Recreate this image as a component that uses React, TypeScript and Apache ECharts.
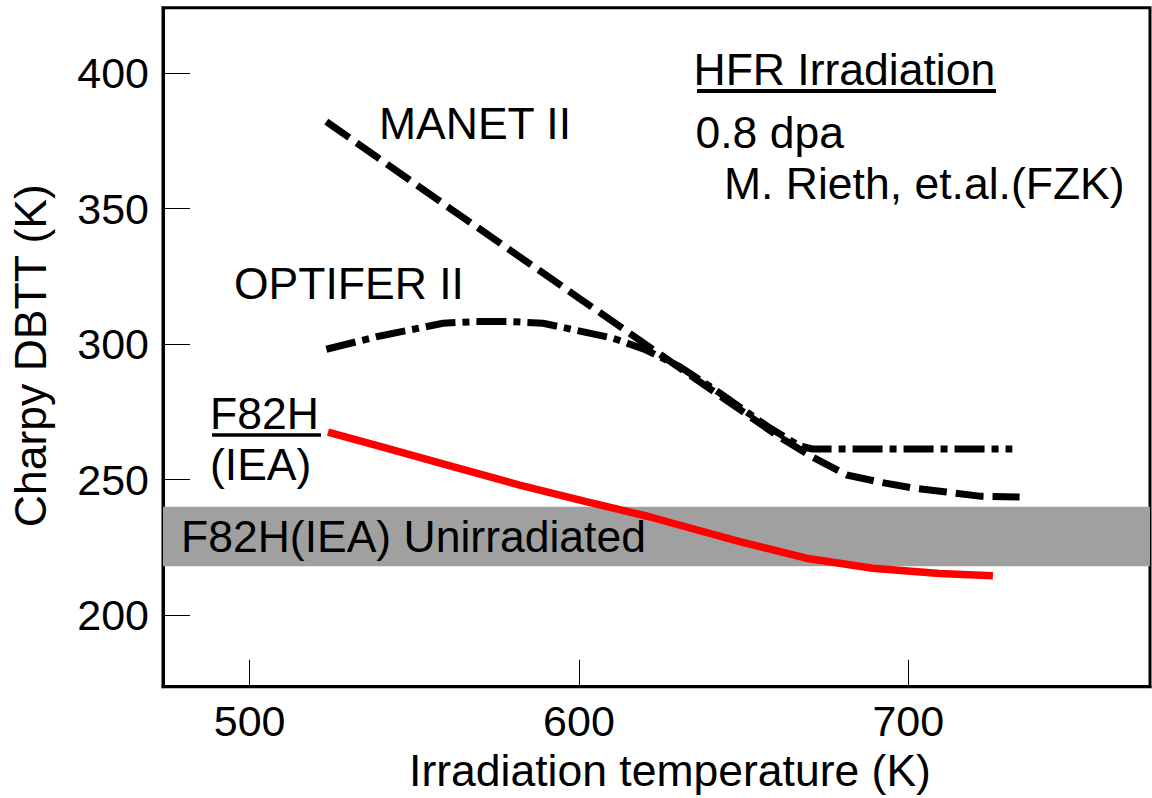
import React, { useEffect, useRef } from "react";
import * as echarts from "echarts";

const FONT = "'Liberation Sans', Arial, Helvetica, sans-serif";
const TXT = 44.5;

const xTicks = [500, 600, 700];
const yTicks = [200, 250, 300, 350, 400];

// [irradiation temperature (K), Charpy DBTT (K)]
const manetII: [number, number][] = [
  [523.3, 382.1], [560.7, 350.2], [600.2, 316.8], [634.5, 287.9], [660.9, 265.7],
  [670.9, 258.3], [681.3, 251.7], [691.3, 249.1], [701.3, 246.9], [711.6, 245.4],
  [721.6, 243.9], [733.8, 243.6],
];
const optiferII: [number, number][] = [
  [523.3, 298.1], [538.5, 302.7], [548.6, 305.2], [558.7, 307.7], [568.8, 308.3],
  [578.9, 308.3], [589.1, 307.7], [594.1, 306.4], [610.3, 302.2], [620.4, 297.8],
  [630.6, 291.7], [642.7, 282.0], [657.9, 269.1], [667.0, 262.4], [670.9, 261.3],
  [731.6, 261.3],
];
const f82hIEA: [number, number][] = [
  [523.8, 267.5], [541.5, 261.6], [561.7, 254.8], [582.0, 248.0], [602.2, 241.9],
  [621.4, 236.3], [628.5, 233.9], [648.8, 227.1], [669.0, 221.0], [689.2, 217.3],
  [709.5, 215.4], [725.7, 214.5],
];
const unirradiatedBand = [218, 240];

export default function App() {
  const ref = useRef<HTMLDivElement>(null);
  useEffect(() => {
    if (!ref.current) return;
    const chart = echarts.init(ref.current, null, { renderer: "svg" });
    const txt = (text: string, x: number, y: number) => ({
      type: "text",
      x,
      y,
      silent: true,
      z: 10,
      style: { text, fontSize: TXT, fontFamily: FONT, fill: "#000", align: "left", verticalAlign: "middle" },
    });
    chart.setOption({
      animation: false,
      backgroundColor: "#fff",
      textStyle: { fontFamily: FONT },
      grid: {
        left: 162.7, top: 7.7, right: 2, bottom: 111.3,
        show: true, borderColor: "#000", borderWidth: 3, backgroundColor: "transparent",
      },
      xAxis: {
        type: "value",
        min: 473.7,
        max: 773.4,
        name: "Irradiation temperature (K)",
        nameLocation: "middle",
        nameGap: 61,
        nameTextStyle: { fontSize: TXT, color: "#000", fontFamily: FONT, padding: [0, 0, 0, 27] },
        axisLine: { show: true, lineStyle: { color: "#000", width: 3 } },
        axisTick: { show: true, inside: true, length: 27, customValues: xTicks, lineStyle: { color: "#000", width: 1 } },
        axisLabel: { customValues: xTicks, fontSize: 43, color: "#000", margin: 13, fontFamily: FONT },
        splitLine: { show: false },
      },
      yAxis: {
        type: "value",
        min: 173.6,
        max: 424.1,
        name: "Charpy DBTT (K)",
        nameLocation: "middle",
        nameGap: 110,
        nameTextStyle: { fontSize: TXT, color: "#000", fontFamily: FONT, padding: [0, 17, 0, 0] },
        axisLine: { show: true, lineStyle: { color: "#000", width: 3 } },
        axisTick: { show: true, inside: true, length: 27, customValues: yTicks, lineStyle: { color: "#000", width: 1 } },
        axisLabel: { customValues: yTicks, fontSize: 43, color: "#000", margin: 14, fontFamily: FONT },
        splitLine: { show: false },
      },
      series: [
        {
          name: "MANET II",
          type: "line",
          data: manetII,
          symbol: "none",
          silent: true,
          lineStyle: { color: "#000", width: 7, type: [28, 9] },
        },
        {
          name: "OPTIFER II",
          type: "line",
          data: optiferII,
          symbol: "none",
          silent: true,
          lineStyle: { color: "#000", width: 7, type: [30, 7, 7, 7] },
        },
        {
          name: "F82H (IEA)",
          type: "line",
          data: f82hIEA,
          symbol: "none",
          silent: true,
          z: 3,
          lineStyle: { color: "#ff0000", width: 7.5 },
          markArea: {
            silent: true,
            itemStyle: { color: "#a0a0a0", opacity: 1 },
            label: {
              show: true,
              position: "insideLeft",
              distance: 18,
              fontSize: TXT,
              color: "#000",
              fontFamily: FONT,
            },
            data: [[{ name: "F82H(IEA) Unirradiated", yAxis: unirradiatedBand[0] }, { yAxis: unirradiatedBand[1] }]],
          },
        },
      ],
      graphic: [
        txt("MANET II", 379, 123),
        txt("OPTIFER II", 234, 283),
        txt("F82H", 210, 413),
        { type: "line", silent: true, shape: { x1: 212, y1: 435, x2: 321, y2: 435 }, style: { stroke: "#000", lineWidth: 3.5 } },
        txt("(IEA)", 210, 464),
        txt("HFR Irradiation", 693.5, 69),
        { type: "line", silent: true, shape: { x1: 697, y1: 91, x2: 996, y2: 91 }, style: { stroke: "#000", lineWidth: 4 } },
        txt("0.8 dpa", 695.5, 132.6),
        txt("M. Rieth, et.al.(FZK)", 724, 183.6),
      ],
    });
    return () => chart.dispose();
  }, []);
  return <div ref={ref} style={{ position: "fixed", left: 0, top: 0, width: 1152, height: 798 }} />;
}
